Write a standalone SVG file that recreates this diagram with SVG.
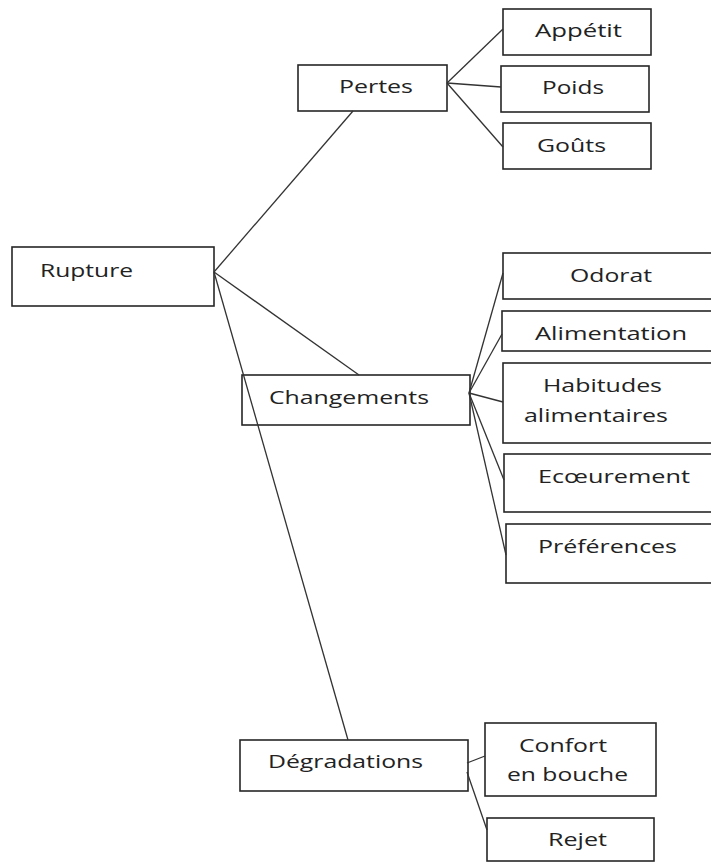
<svg xmlns="http://www.w3.org/2000/svg" width="711" height="862" viewBox="0 0 711 862">
<style>
.box{fill:#fff;stroke:#262626;stroke-width:1.6}
.t{font-family:"Open Sans","Noto Sans","Liberation Sans",sans-serif;font-size:19px;fill:#222}
.c line{stroke:#333;stroke-width:1.3}
</style>
<rect width="711" height="862" fill="#fff"/>
<g id="rupture"><rect class="box" x="12" y="247" width="202" height="59"/><text class="t" x="40" y="277" textLength="93" lengthAdjust="spacingAndGlyphs">Rupture</text></g>
<g id="pertes"><rect class="box" x="298" y="65" width="149" height="46"/><text class="t" x="339" y="93" textLength="74" lengthAdjust="spacingAndGlyphs">Pertes</text></g>
<g id="appetit"><rect class="box" x="503" y="9" width="148" height="46"/><text class="t" x="535" y="37" textLength="87" lengthAdjust="spacingAndGlyphs">Appétit</text></g>
<g id="poids"><rect class="box" x="501" y="66" width="148" height="46"/><text class="t" x="542" y="94" textLength="62" lengthAdjust="spacingAndGlyphs">Poids</text></g>
<g id="gouts"><rect class="box" x="503" y="123" width="148" height="46"/><text class="t" x="537" y="152" textLength="69" lengthAdjust="spacingAndGlyphs">Goûts</text></g>
<g id="changements"><rect class="box" x="242" y="375" width="228" height="50"/><text class="t" x="269" y="404" textLength="160" lengthAdjust="spacingAndGlyphs">Changements</text></g>
<g id="odorat"><rect class="box" x="503" y="253" width="215" height="46"/><text class="t" x="570" y="282" textLength="82" lengthAdjust="spacingAndGlyphs">Odorat</text></g>
<g id="alimentation"><rect class="box" x="502" y="311" width="216" height="40"/><text class="t" x="535" y="340" textLength="152" lengthAdjust="spacingAndGlyphs">Alimentation</text></g>
<g id="habitudes"><rect class="box" x="503" y="363" width="215" height="80"/><text class="t" x="543" y="392" textLength="119" lengthAdjust="spacingAndGlyphs">Habitudes</text><text class="t" x="524" y="422" textLength="144" lengthAdjust="spacingAndGlyphs">alimentaires</text></g>
<g id="ecoeurement"><rect class="box" x="504" y="454" width="214" height="58"/><text class="t" x="538" y="483" textLength="152" lengthAdjust="spacingAndGlyphs">Ecœurement</text></g>
<g id="preferences"><rect class="box" x="506" y="524" width="212" height="59"/><text class="t" x="538" y="553" textLength="139" lengthAdjust="spacingAndGlyphs">Préférences</text></g>
<g id="degradations"><rect class="box" x="240" y="740" width="228" height="51"/><text class="t" x="268" y="768" textLength="155" lengthAdjust="spacingAndGlyphs">Dégradations</text></g>
<g id="confort"><rect class="box" x="485" y="723" width="171" height="73"/><text class="t" x="519" y="752" textLength="88" lengthAdjust="spacingAndGlyphs">Confort</text><text class="t" x="507" y="781" textLength="121" lengthAdjust="spacingAndGlyphs">en bouche</text></g>
<g id="rejet"><rect class="box" x="487" y="818" width="167" height="43"/><text class="t" x="548" y="846" textLength="59" lengthAdjust="spacingAndGlyphs">Rejet</text></g>
<g id="connectors" class="c">
<line x1="214" y1="272" x2="353" y2="111"/>
<line x1="214" y1="272" x2="359" y2="375"/>
<line x1="214" y1="272" x2="348" y2="740"/>
<line x1="447" y1="83" x2="503" y2="29"/>
<line x1="447" y1="83" x2="501" y2="87"/>
<line x1="447" y1="83" x2="503" y2="147"/>
<line x1="469" y1="393" x2="503" y2="273"/>
<line x1="469" y1="393" x2="502" y2="334"/>
<line x1="469" y1="393" x2="503" y2="402"/>
<line x1="469" y1="393" x2="504" y2="480"/>
<line x1="469" y1="393" x2="506" y2="555"/>
<line x1="467" y1="763" x2="485" y2="756"/>
<line x1="467" y1="772" x2="487" y2="830"/>
</g>
</svg>
